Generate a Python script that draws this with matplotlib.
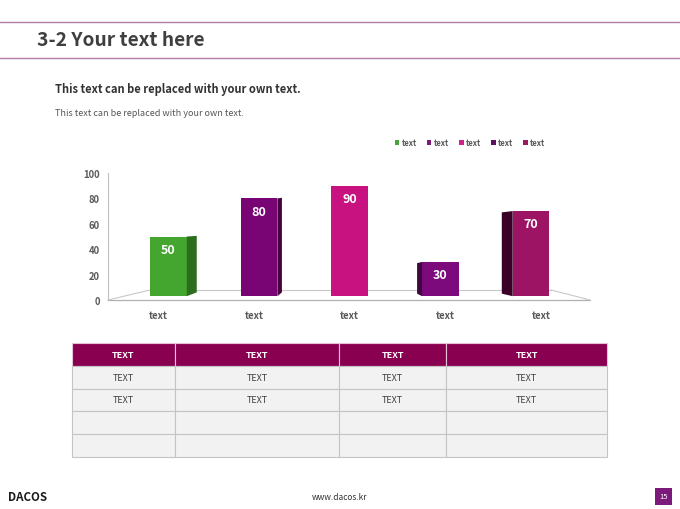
import matplotlib
matplotlib.use("Agg")
import matplotlib.pyplot as plt
from matplotlib.patches import Polygon, Rectangle, Patch
from matplotlib.lines import Line2D

plt.rcParams['font.family'] = ['Noto Sans CJK KR', 'DejaVu Sans']

# ---------------- data ----------------
categories = ["text", "text", "text", "text", "text"]
values = [50, 80, 90, 30, 70]
series_names = ["text", "text", "text", "text", "text"]
y_ticks = [0, 20, 40, 60, 80, 100]
table_header = ["TEXT", "TEXT", "TEXT", "TEXT"]
table_rows = [["TEXT", "TEXT", "TEXT", "TEXT"],
              ["TEXT", "TEXT", "TEXT", "TEXT"],
              ["", "", "", ""],
              ["", "", "", ""]]
title = "3-2 Your text here"
subtitle = "This text can be replaced with your own text."
body_text = "This text can be replaced with your own text."
footer_url = "www.dacos.kr"
page_no = "15"

# ---------------- style ----------------
front_colors = ["#44a62e", "#790474", "#c8127f", "#7c0a7c", "#9c1463"]
side_colors = ["#2b6e1e", "#48003f", "#9a0d60", "#3f0840", "#3a0028"]
legend_colors = ["#4aa33a", "#7a1a7a", "#d0208a", "#5e0f63", "#9b1a5e"]
side_depth = [0.11, 0.05, 0.0, -0.055, -0.12]   # + right side, - left side
line_col = "#b47aa6"
grey = "#595959"

W, H = 680, 510
fig = plt.figure(figsize=(6.8, 5.1), dpi=100)
fig.patch.set_facecolor("white")


def fx(px):
    return px / W


def fy(py):
    return 1 - py / H


# header lines & title
for py in (23, 59):
    fig.add_artist(Line2D([0, 1], [fy(py), fy(py)], color=line_col, lw=1.0,
                          transform=fig.transFigure))
fig.text(fx(37), fy(41), title, fontsize=13.8, fontweight='bold',
         color="#3f3f3f", ha='left', va='center')
fig.text(fx(55), fy(90), subtitle, fontsize=8.0, fontweight='bold',
         color="#333333", ha='left', va='center')
fig.text(fx(55), fy(114), body_text, fontsize=6.5,
         color="#555555", ha='left', va='center')

# ---------------- chart ----------------
ax = fig.add_axes([fx(108), fy(301), (590 - 108) / W, (301 - 174) / H])
ax.set_xlim(-0.668, 4.652)
ax.set_ylim(0, 100)
for s in ("top", "right", "bottom"):
    ax.spines[s].set_visible(False)
ax.spines["left"].set_color("#bfbfbf")
ax.spines["left"].set_linewidth(0.8)

base = 3.0
bw = 0.403
xs = list(range(len(values)))
ax.bar(xs, [v - base for v in values], bottom=base, width=bw,
       color=front_colors, zorder=3)

for i, v in enumerate(values):
    d = side_depth[i]
    if d > 0:
        xe = i + bw / 2
        poly = [(xe, base), (xe + d, base + 3), (xe + d, v + 0.5), (xe, v)]
    elif d < 0:
        xe = i - bw / 2
        poly = [(xe, base), (xe + d, base + 2), (xe + d, v - 1), (xe, v)]
    else:
        continue
    ax.add_patch(Polygon(poly, closed=True, facecolor=side_colors[i],
                         edgecolor='none', zorder=3))

for i, v in enumerate(values):
    ax.text(i, v - 10, str(v), ha='center', va='center', color='white',
            fontsize=9, fontweight='bold', zorder=5)

# floor (perspective plane)
x0, x1 = ax.get_xlim()
back_l, back_r, back_y = -0.204, 4.222, 7.9
ax.plot([x0, x1], [0, 0], color="#b0b0b0", lw=0.9, clip_on=False, zorder=1)
ax.plot([back_l, back_r], [back_y, back_y], color="#c8c8c8", lw=0.8,
        clip_on=False, zorder=1)
ax.plot([x0, back_l], [0, back_y], color="#c8c8c8", lw=0.8, clip_on=False, zorder=1)
ax.plot([x1, back_r], [0, back_y], color="#c8c8c8", lw=0.8, clip_on=False, zorder=1)

ax.set_yticks(y_ticks)
ax.set_yticklabels([str(t) for t in y_ticks])
label_pos = [i + (i - 2) * 0.055 for i in xs]
ax.set_xticks(label_pos)
ax.set_xticklabels(categories)
ax.tick_params(axis='y', length=0, pad=6, labelsize=6.8, labelcolor=grey)
ax.tick_params(axis='x', length=0, pad=7, labelsize=6.8, labelcolor=grey)
for lab in ax.get_yticklabels() + ax.get_xticklabels():
    lab.set_fontweight('bold')

handles = [Patch(facecolor=c, edgecolor='none') for c in legend_colors]
leg = fig.legend(handles, series_names, loc='center',
                 bbox_to_anchor=(fx(470), fy(144)), ncol=5, frameon=False,
                 fontsize=5.5, handlelength=0.6, handleheight=0.6,
                 columnspacing=1.3, handletextpad=0.3)
for t in leg.get_texts():
    t.set_color(grey)
    t.set_fontweight('bold')

# ---------------- table ----------------
tax = fig.add_axes([fx(72), fy(458), (607 - 72) / W, (458 - 344) / H])
tax.axis('off')
col_w = [103, 164, 107, 161]
tot = sum(col_w)
tbl = tax.table(cellText=table_rows, colLabels=table_header,
                colWidths=[c / tot for c in col_w], bbox=[0, 0, 1, 1],
                cellLoc='center')
tbl.auto_set_font_size(False)
for (r, c), cell in tbl.get_celld().items():
    cell.set_linewidth(0.8)
    if r == 0:
        cell.set_facecolor("#8a0051")
        cell.set_edgecolor("#e6c2d6")
        cell.get_text().set_color("white")
        cell.get_text().set_fontsize(6.5)
        cell.get_text().set_fontweight('bold')
    else:
        cell.set_facecolor("#f2f2f2")
        cell.set_edgecolor("#c4c4c4")
        cell.get_text().set_color("#404040")
        cell.get_text().set_fontsize(6.5)

# ---------------- footer ----------------
fig.text(fx(8), fy(498), "DACOS", fontsize=8.3, fontweight='bold',
         color="#1a1a1a", ha='left', va='center')
fig.text(fx(340), fy(498), footer_url, fontsize=6, color="#333333",
         ha='center', va='center')
fig.add_artist(Rectangle((fx(655), fy(506)), 17 / W, 17 / H,
                         facecolor="#7b1a7b", edgecolor='none',
                         transform=fig.transFigure))
fig.text(fx(663.5), fy(497.5), page_no, fontsize=5.5, color="white",
         ha='center', va='center')

fig.savefig("out.png", dpi=100)
